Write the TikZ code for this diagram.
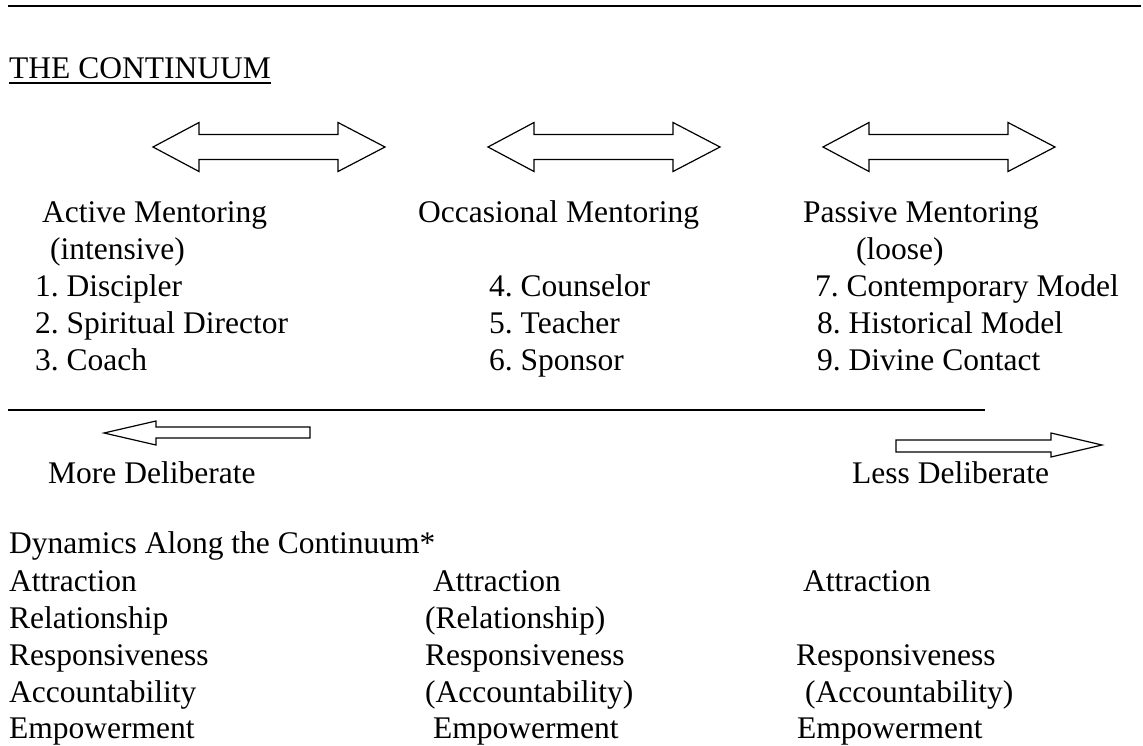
\documentclass[tikz,border=0pt]{standalone}
\usepackage{fontspec}
\setmainfont{Liberation Serif}
\frenchspacing
\begin{document}
\begin{tikzpicture}[x=1pt,y=-1pt,
  txt/.style={anchor=base west,inner sep=0pt,font=\fontsize{31.5}{37}\selectfont},
  rulestyle/.style={line width=1.6pt},
  blockarrow/.style={line width=1.2pt,line join=miter}]
\useasboundingbox (0,0) rectangle (1143,745);
% top rule
\coordinate (r1a) at (8,6); \coordinate (r1b) at (1141,6);
\draw[rulestyle] (r1a) -- (r1b);
% title
\node[txt] (title) at (9,78) {THE CONTINUUM};
\draw[line width=1.8pt] ([yshift=-5pt]title.base west) -- ([yshift=-5pt]title.base east);
% double arrows
\newcommand\dblarr[2]{%
  \draw[blockarrow] (#1,#2) -- ++(46,-24.5) -- ++(0,12) -- ++(139,0) -- ++(0,-12) -- ++(47,24.5)
    -- ++(-47,24.5) -- ++(0,-12) -- ++(-139,0) -- ++(0,12) -- cycle;}
\dblarr{153}{147}
\dblarr{488}{147}
\dblarr{823}{147}
% column 1
\node[txt] (am) at (42,222) {Active Mentoring};
\node[txt] (int) at (50,259) {(intensive)};
\node[txt] (c1) at (35,296) {1. Discipler};
\node[txt] (c2) at (35,333) {2. Spiritual Director};
\node[txt] (c3) at (35,370) {3. Coach};
% column 2
\node[txt] (om) at (418,222) {Occasional Mentoring};
\node[txt] (c4) at (489,296) {4. Counselor};
\node[txt] (c5) at (489,333) {5. Teacher};
\node[txt] (c6) at (489,370) {6. Sponsor};
% column 3
\node[txt] (pm) at (803,222) {Passive Mentoring};
\node[txt] (loose) at (856,259) {(loose)};
\node[txt] (c7) at (815,296) {7. Contemporary Model};
\node[txt] (c8) at (817,333) {8. Historical Model};
\node[txt] (c9) at (817,370) {9. Divine Contact};
% second rule
\coordinate (r2a) at (8,410); \coordinate (r2b) at (985,410);
\draw[rulestyle] (r2a) -- (r2b);
% deliberate arrows
\draw[blockarrow] (104,433) -- (156,421) -- (156,427) -- (310,427) -- (310,438) -- (156,438) -- (156,445) -- cycle;
\draw[blockarrow] (1102,445) -- (1051,433) -- (1051,440) -- (896,440) -- (896,452) -- (1051,452) -- (1051,457) -- cycle;
\node[txt] (more) at (48,483) {More Deliberate};
\node[txt] (less) at (852,483) {Less Deliberate};
% dynamics
\node[txt] (dyn) at (9,553) {Dynamics Along the Continuum*};
\node[txt] (a1) at (9,591) {Attraction};
\node[txt] (b1) at (9,628) {Relationship};
\node[txt] (d1) at (9,665) {Responsiveness};
\node[txt] (e1) at (9,702) {Accountability};
\node[txt] (f1) at (9,738) {Empowerment};
\node[txt] (a2) at (433,591) {Attraction};
\node[txt] (b2) at (425,628) {(Relationship)};
\node[txt] (d2) at (425,665) {Responsiveness};
\node[txt] (e2) at (425,702) {(Accountability)};
\node[txt] (f2) at (433,738) {Empowerment};
\node[txt] (a3) at (803,591) {Attraction};
\node[txt] (d3) at (796,665) {Responsiveness};
\node[txt] (e3) at (805,702) {(Accountability)};
\node[txt] (f3) at (797,738) {Empowerment};
\end{tikzpicture}
\end{document}
